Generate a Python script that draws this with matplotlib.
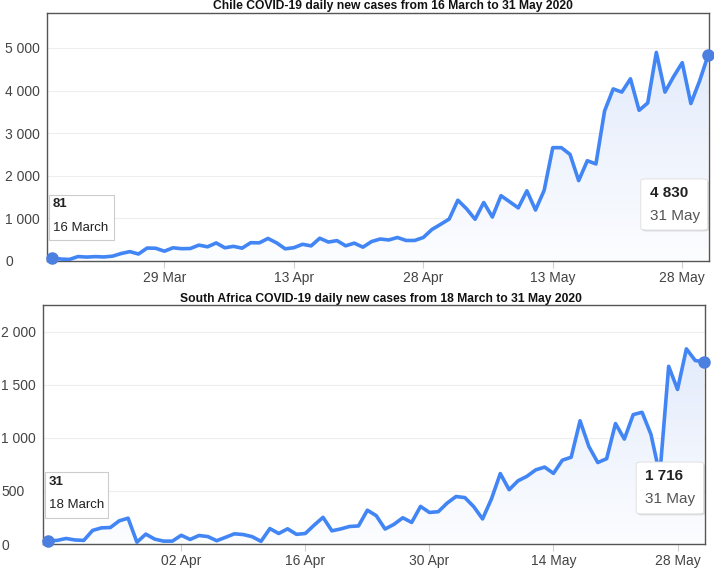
import numpy as np
import pandas as pd
import matplotlib
matplotlib.use('Agg')
import matplotlib.pyplot as plt
import matplotlib.dates as mdates
from matplotlib.colors import LinearSegmentedColormap
from matplotlib.patches import Polygon, FancyBboxPatch, Rectangle
from matplotlib.ticker import FuncFormatter

plt.rcParams['font.family'] = ['Liberation Sans', 'DejaVu Sans']

# Chile daily new cases, 16 March - 31 May 2020
chile_cases = [81, 45, 37, 104, 92, 103, 95, 114, 176, 220, 164, 304, 299, 230,
               310, 289, 293, 373, 333, 424, 310, 344,
               301, 430, 426, 529, 426, 286, 312, 392, 355, 534, 445, 478, 357,
               419, 325, 456, 516, 494, 552, 482, 482, 552,
               740, 860, 985, 1427, 1228, 980, 1373, 1032, 1533, 1391, 1247,
               1647, 1197, 1658, 2660, 2659, 2502, 1886, 2353, 2278, 3520, 4038,
               3964, 4276, 3536, 3709, 4895, 3964, 4328, 4654, 3695, 4220, 4830]
chile_start = '2020-03-16'
chile_xticks = ['2020-03-29', '2020-04-13', '2020-04-28', '2020-05-13', '2020-05-28']
chile_yticks = [0, 1000, 2000, 3000, 4000, 5000]

# South Africa daily new cases, 18 March - 31 May 2020
sa_cases = [31, 34, 52, 38, 34, 128, 152, 155, 218, 243, 17, 93, 46, 27,
            27, 82, 43, 80, 70, 31, 63, 96, 89, 69, 25, 145, 99, 143, 91, 99,
            178, 251, 124, 142, 165, 170, 318, 267, 141, 185, 247, 203, 354, 297,
            304, 385, 447, 437, 352, 236, 424, 663, 511, 595, 637, 698, 724, 665,
            789, 817, 1160, 917, 767, 803, 1134, 988, 1218, 1240, 1032, 650,
            1673, 1455, 1837, 1727, 1716]
sa_start = '2020-03-18'
sa_xticks = ['2020-04-02', '2020-04-16', '2020-04-30', '2020-05-14', '2020-05-28']
sa_yticks = [0, 500, 1000, 1500, 2000]

LINE = '#4285f4'
DOT = '#4b7fe0'
fill_cmap = LinearSegmentedColormap.from_list('fill', ['#fcfdff', '#e3ebfb'])


def thousands(v, pos=None):
    return f"{int(v):,}".replace(',', ' ')


def draw_panel(ax, start, cases, ylim, yticks, xticks, first_text, last_text, ypad):
    dates = pd.date_range(start, periods=len(cases))
    x = mdates.date2num(dates)
    y = np.array(cases)

    # gradient fill under the curve
    verts = [(x[0], 0)] + list(zip(x, y)) + [(x[-1], 0)]
    clip = Polygon(verts, closed=True, facecolor='none', edgecolor='none')
    ax.add_patch(clip)
    grad = np.linspace(0, 1, 256).reshape(-1, 1)
    img = ax.imshow(grad, cmap=fill_cmap, aspect='auto', origin='lower',
                    extent=[x[0], x[-1], 0, y.max()], zorder=1)
    img.set_clip_path(clip)

    ax.plot(x, y, color=LINE, lw=2.6, zorder=3)
    ax.plot(x[[0, -1]], y[[0, -1]], 'o', ms=8, color=DOT, zorder=4, clip_on=False)

    ax.set_xlim(x[0] - 0.6, x[-1] + 0.1)
    ax.set_ylim(*ylim)

    ax.set_yticks(yticks)
    ax.yaxis.set_major_formatter(FuncFormatter(thousands))
    ax.tick_params(axis='y', length=0, pad=ypad, labelsize=10, labelcolor='#444')
    for lab in ax.get_yticklabels():
        lab.set_horizontalalignment('left')

    ax.set_xticks(mdates.date2num(pd.to_datetime(xticks)))
    ax.xaxis.set_major_formatter(mdates.DateFormatter('%d %b'))
    ax.tick_params(axis='x', length=5, width=0.8, color='#d0d0d0', pad=2,
                   labelsize=10, labelcolor='#444')

    ax.grid(axis='y', color='#eeeeee', lw=0.8, zorder=0)
    ax.set_axisbelow(True)
    for side in ['left', 'top', 'bottom']:
        ax.spines[side].set_color('#555555')
        ax.spines[side].set_linewidth(1.0)
    ax.spines['right'].set_color('#555555')
    ax.spines['right'].set_linestyle((0, (1, 1)))
    ax.spines['right'].set_linewidth(1.0)

    # first value box
    bx, by, bw, bh = first_text['box']
    ax.add_patch(Rectangle((bx, by), bw, bh, transform=ax.transAxes,
                           facecolor='white', edgecolor='#cccccc', lw=0.8, zorder=5))
    ax.text(bx + 0.006, first_text['y1'], thousands(y[0]), transform=ax.transAxes,
            fontsize=9.5, fontweight='bold', color='#222', va='center', zorder=6)
    ax.text(bx + 0.006, first_text['y2'], first_text['label'], transform=ax.transAxes,
            fontsize=9.5, color='#222', va='center', zorder=6)

    # last value tooltip
    tx, ty, tw, th = last_text['box']
    shadow = FancyBboxPatch((tx + 0.002, ty - 0.006), tw, th, transform=ax.transAxes,
                            boxstyle='round,pad=0,rounding_size=0.008',
                            facecolor='#000000', alpha=0.12, edgecolor='none', zorder=5)
    ax.add_patch(shadow)
    ax.add_patch(FancyBboxPatch((tx, ty), tw, th, transform=ax.transAxes,
                                boxstyle='round,pad=0,rounding_size=0.008',
                                facecolor='white', edgecolor='#dddddd', lw=0.6, zorder=6))
    ax.text(tx + 0.014, last_text['y1'], thousands(y[-1]), transform=ax.transAxes,
            fontsize=11, fontweight='bold', color='#222', va='center', zorder=7)
    ax.text(tx + 0.014, last_text['y2'], last_text['label'], transform=ax.transAxes,
            fontsize=11, color='#555', va='center', zorder=7)


fig = plt.figure(figsize=(7.14, 5.68), dpi=100)

ax1 = fig.add_axes([47 / 714, 1 - 261 / 568, 662 / 714, 248 / 568])
draw_panel(ax1, chile_start, chile_cases, (0, 5820), chile_yticks, chile_xticks,
           {'box': (0.003, 0.085, 0.098, 0.181), 'y1': 0.23, 'y2': 0.133,
            'label': '16 March'},
           {'box': (0.897, 0.125, 0.101, 0.206), 'y1': 0.274, 'y2': 0.181,
            'label': '31 May'},
           ypad=30)

ax2 = fig.add_axes([43 / 714, 1 - 544 / 568, 662 / 714, 239 / 568])
draw_panel(ax2, sa_start, sa_cases, (0, 2250), sa_yticks, sa_xticks,
           {'box': (0.003, 0.109, 0.095, 0.192), 'y1': 0.259, 'y2': 0.163,
            'label': '18 March'},
           {'box': (0.896, 0.126, 0.102, 0.217), 'y1': 0.285, 'y2': 0.188,
            'label': '31 May'},
           ypad=30)

fig.text(392.5 / 714, 1 - 9.3 / 568,
         'Chile COVID-19 daily new cases from 16 March to 31 May 2020',
         ha='center', va='baseline', fontsize=8.7, fontweight='bold', color='#111')
fig.text(381 / 714, 1 - 302 / 568,
         'South Africa COVID-19 daily new cases from 18 March to 31 May 2020',
         ha='center', va='baseline', fontsize=8.7, fontweight='bold', color='#111')

fig.savefig('out.png', dpi=100)
